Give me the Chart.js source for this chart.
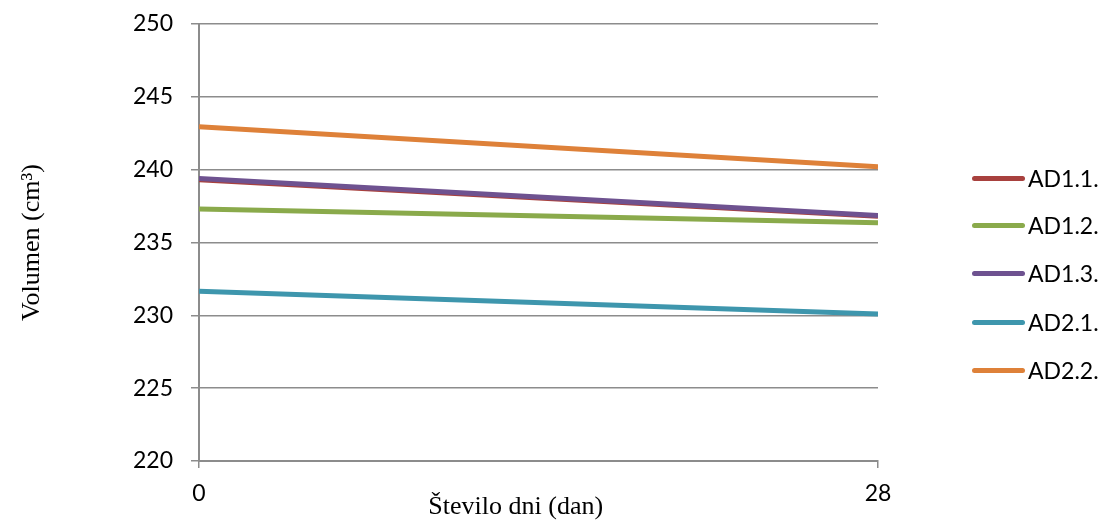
<!DOCTYPE html>
<html>
<head>
<meta charset="utf-8">
<script src="https://cdn.jsdelivr.net/npm/chart.js@4.4.0/dist/chart.umd.min.js"></script>
<style>
  html,body{margin:0;padding:0;background:#fff;}
  #wrap{position:relative;width:1105px;height:523px;}
  #legend{position:absolute;left:972px;top:0;font-family:Lato,'Open Sans',sans-serif;font-size:23px;color:#000;}
  #legend .it{position:absolute;left:0;white-space:nowrap;display:flex;align-items:center;height:28px;}
  #legend .ln{display:inline-block;width:53px;height:5px;border-radius:3px;margin-right:3px;}
</style>
</head>
<body>
<div id="wrap">
  <canvas id="c" width="1105" height="523"></canvas>
  <div id="legend"></div>
</div>
<script>
// dni meritve
const days   = [0, 28];
const names  = ['AD1.1.', 'AD1.2.', 'AD1.3.', 'AD2.1.', 'AD2.2.'];
const ad11   = [239.3, 236.8];
const ad12   = [237.3, 236.35];
const ad13   = [239.4, 236.85];
const ad21   = [231.65, 230.1];
const ad22   = [242.95, 240.2];
const yTicks = [220, 225, 230, 235, 240, 245, 250];

const colors = ['#a8413e', '#8aaa4b', '#6e5290', '#3e96ad', '#de8139'];
const series = [ad11, ad12, ad13, ad21, ad22];
const order  = [2, 1, 0, 1, 1];

const gridC = '#8c8c8c';
const tickFont = {family:"Lato,'Open Sans',sans-serif", size:23};
const titleFont = {family:"'Liberation Serif','Times New Roman',serif", size:26};

const chart = new Chart(document.getElementById('c'), {
  type:'line',
  data:{
    datasets: series.map((vals,i)=>({
      label:names[i],
      data:days.map((d,j)=>({x:d, y:vals[j]})),
      borderColor:colors[i], backgroundColor:colors[i],
      borderWidth:5, pointRadius:0, tension:0, order:order[i]
    }))
  },
  options:{
    responsive:false, animation:false,
    layout:{padding:{left:17, right:227, top:24, bottom:0}},
    plugins:{legend:{display:false}, tooltip:{enabled:false}},
    scales:{
      x:{
        type:'linear', min:0, max:28,
        afterBuildTicks:s=>{ s.ticks = days.map(v=>({value:v})); },
        ticks:{color:'#000', font:tickFont, padding:12, maxRotation:0},
        grid:{drawOnChartArea:false, drawTicks:true, tickLength:7, color:gridC, lineWidth:1.5},
        border:{color:gridC, width:2},
        title:{display:true, text:'Število dni (dan)' + '\u00a0'.repeat(7), color:'#000', font:titleFont, padding:{top:-14, bottom:0}},
        afterFit:s=>{ s.height = 62; s.paddingLeft = 0; s.paddingRight = 0; }
      },
      y:{
        min:220, max:250,
        afterBuildTicks:s=>{ s.ticks = yTicks.map(v=>({value:v})); },
        ticks:{color:'#000', font:tickFont, padding:18},
        grid:{color:gridC, lineWidth:1.5, tickLength:8},
        border:{color:gridC, width:2},
        title:{display:true, text:'Volumen (cm³)', color:'#000', font:titleFont, padding:{top:0, bottom:0}},
        afterFit:s=>{ s.width = 182; s.paddingTop = 0; s.paddingBottom = 0; }
      }
    }
  }
});

// legenda
const lg = document.getElementById('legend');
const rowY = [178, 225, 273, 322, 370];
names.forEach((n,i)=>{
  const d = document.createElement('div');
  d.className = 'it';
  d.style.top = (rowY[i]-14)+'px';
  d.innerHTML = `<span class="ln" style="background:${colors[i]}"></span><span>${n}</span>`;
  lg.appendChild(d);
});
</script>
</body>
</html>
